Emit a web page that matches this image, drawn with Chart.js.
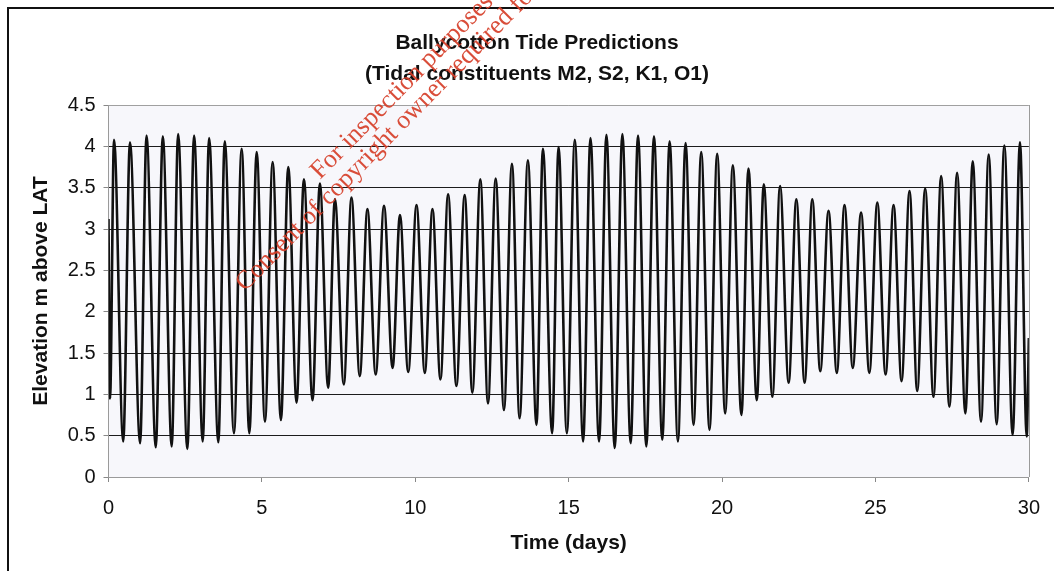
<!DOCTYPE html>
<html>
<head>
<meta charset="utf-8">
<script src="https://cdn.jsdelivr.net/npm/chart.js@4.4.0/dist/chart.umd.min.js"></script>
<style>
  html, body { margin: 0; padding: 0; background: #ffffff; }
  #wrap { width: 1054px; height: 571px; position: relative; }
</style>
</head>
<body>
<div id="wrap"><canvas id="c" width="1054" height="571"></canvas></div>
<script>
// ---- data ----
const chartTitle = ["Ballycotton Tide Predictions", "(Tidal constituents M2, S2, K1, O1)"];
const xAxisTitle = "Time (days)";
const yAxisTitle = "Elevation m above LAT";
const xTickValues = [0, 5, 10, 15, 20, 25, 30];
const yTickValues = [0, 0.5, 1, 1.5, 2, 2.5, 3, 3.5, 4, 4.5];
const watermarkLines = ["For inspection purposes only.", "Consent of copyright owner required for any other use."];

// times (days) of the successive highs / lows
const tideTimes = [0, 0.05,
  0.18, 0.48, 0.70, 1.03, 1.24, 1.54, 1.77, 2.06, 2.27, 2.57,
  2.79, 3.07, 3.28, 3.58, 3.79, 4.09, 4.34, 4.59, 4.83, 5.10,
  5.35, 5.62, 5.86, 6.13, 6.37, 6.65, 6.89, 7.16, 7.38, 7.67,
  7.92, 8.19, 8.44, 8.71, 8.98, 9.26, 9.50, 9.77, 10.04, 10.31,
  10.56, 10.82, 11.07, 11.34, 11.61, 11.86, 12.12, 12.37, 12.62, 12.89,
  13.15, 13.40, 13.67, 13.95, 14.16, 14.46, 14.67, 14.94, 15.20, 15.47,
  15.71, 15.99, 16.23, 16.50, 16.75, 17.02, 17.26, 17.53, 17.78, 18.05,
  18.29, 18.56, 18.81, 19.07, 19.32, 19.59, 19.84, 20.10, 20.35, 20.63,
  20.86, 21.13, 21.36, 21.64, 21.89, 22.17, 22.42, 22.69, 22.94, 23.20,
  23.47, 23.74, 23.99, 24.26, 24.53, 24.80, 25.06, 25.33, 25.59, 25.85,
  26.11, 26.36, 26.62, 26.89, 27.14, 27.41, 27.66, 27.93, 28.17, 28.44,
  28.69, 28.95, 29.20, 29.47, 29.71, 29.93, 30.0];

// elevations (m above LAT) at those times
const tideLevels = [3.12, 0.95,
  4.08, 0.43, 4.05, 0.41, 4.13, 0.36, 4.12, 0.37, 4.15, 0.34,
  4.13, 0.43, 4.10, 0.42, 4.06, 0.53, 3.97, 0.53, 3.93, 0.67,
  3.81, 0.69, 3.75, 0.90, 3.60, 0.93, 3.55, 1.08, 3.36, 1.12,
  3.38, 1.22, 3.24, 1.24, 3.28, 1.32, 3.17, 1.27, 3.29, 1.26,
  3.24, 1.18, 3.42, 1.10, 3.41, 1.02, 3.60, 0.89, 3.61, 0.81,
  3.79, 0.71, 3.83, 0.63, 3.97, 0.53, 3.99, 0.53, 4.08, 0.43,
  4.10, 0.43, 4.14, 0.35, 4.15, 0.41, 4.13, 0.37, 4.12, 0.45,
  4.06, 0.43, 4.04, 0.63, 3.93, 0.57, 3.91, 0.77, 3.77, 0.75,
  3.73, 0.93, 3.54, 0.97, 3.52, 1.14, 3.36, 1.14, 3.36, 1.28,
  3.22, 1.26, 3.29, 1.32, 3.20, 1.26, 3.32, 1.24, 3.29, 1.16,
  3.46, 1.04, 3.49, 0.97, 3.64, 0.85, 3.68, 0.77, 3.82, 0.67,
  3.90, 0.64, 4.01, 0.51, 4.05, 0.49, 1.68];

const points = tideTimes.map((t, i) => ({ x: t, y: tideLevels[i] }));

const FONT = "'Liberation Sans', Arial, Helvetica, sans-serif";

const decorPlugin = {
  id: 'decor',
  beforeDraw(chart) {
    const { ctx, chartArea: a } = chart;
    ctx.save();
    ctx.fillStyle = '#ffffff';
    ctx.fillRect(0, 0, chart.width, chart.height);
    ctx.fillStyle = '#f7f7fb';
    ctx.fillRect(a.left, a.top, a.right - a.left, a.bottom - a.top);
    ctx.restore();
  },
  afterDraw(chart) {
    const { ctx, chartArea: a } = chart;
    ctx.save();
    // right border of plot area
    ctx.strokeStyle = '#9a9a9a';
    ctx.lineWidth = 1;
    ctx.beginPath();
    ctx.moveTo(Math.round(a.right) + 0.5, a.top);
    ctx.lineTo(Math.round(a.right) + 0.5, a.bottom);
    ctx.stroke();
    // outer frame (top and left)
    ctx.strokeStyle = '#111';
    ctx.lineWidth = 2;
    ctx.beginPath();
    ctx.moveTo(8, chart.height);
    ctx.lineTo(8, 8);
    ctx.lineTo(chart.width, 8);
    ctx.stroke();
    // title
    ctx.fillStyle = '#111';
    ctx.font = "bold 21px " + FONT;
    ctx.textAlign = 'center';
    ctx.textBaseline = 'middle';
    ctx.fillText(chartTitle[0], 537, 43);
    ctx.fillText(chartTitle[1], 537, 74);
    // watermark
    ctx.fillStyle = 'rgba(214, 62, 40, 0.92)';
    ctx.font = "26px 'Liberation Serif', 'Times New Roman', serif";
    ctx.textAlign = 'left';
    ctx.textBaseline = 'alphabetic';
    const ang = -45.5 * Math.PI / 180;
    ctx.save();
    ctx.translate(320, 180);
    ctx.rotate(ang);
    ctx.fillText(watermarkLines[0], 0, 0);
    ctx.restore();
    ctx.save();
    ctx.translate(245, 292);
    ctx.rotate(ang);
    ctx.fillText(watermarkLines[1], 0, 0);
    ctx.restore();
    ctx.restore();
  }
};

new Chart(document.getElementById('c'), {
  type: 'scatter',
  data: {
    datasets: [{
      data: points,
      showLine: true,
      borderColor: '#111111',
      borderWidth: 2.6,
      pointRadius: 0,
      pointHoverRadius: 0,
      fill: false,
      cubicInterpolationMode: 'monotone'
    }]
  },
  options: {
    responsive: false,
    animation: false,
    devicePixelRatio: 1,
    layout: { padding: { top: 105, left: 0, right: 24.5, bottom: 0 } },
    plugins: { legend: { display: false }, tooltip: { enabled: false }, title: { display: false } },
    scales: {
      x: {
        type: 'linear',
        min: 0, max: 30,
        afterBuildTicks: (s) => { s.ticks = xTickValues.map(v => ({ value: v })); },
        afterFit: (s) => { s.height = 94; },
        ticks: {
          color: '#111', padding: 14,
          font: { family: FONT, size: 20 },
          callback: (v) => String(v),
          maxRotation: 0, autoSkip: false
        },
        grid: { drawOnChartArea: false, drawTicks: true, tickLength: 5, tickColor: '#888' },
        border: { display: true, color: '#9a9a9a', width: 1 },
        title: {
          display: true, text: xAxisTitle, color: '#111',
          font: { family: FONT, size: 21, weight: 'bold' },
          padding: { top: 0, bottom: 15 }
        }
      },
      y: {
        type: 'linear',
        min: 0, max: 4.5,
        afterBuildTicks: (s) => { s.ticks = yTickValues.map(v => ({ value: v })); },
        afterFit: (s) => { s.width = 108.5; },
        ticks: {
          color: '#111', padding: 8,
          font: { family: FONT, size: 20 },
          callback: (v) => String(v),
          autoSkip: false
        },
        grid: {
          drawTicks: true, tickLength: 5, tickColor: '#888',
          color: (c) => (c.tick && (c.tick.value === 0 || c.tick.value === 4.5)) ? '#a0a0a0' : '#1c1c1c',
          lineWidth: 1
        },
        border: { display: true, color: '#9a9a9a', width: 1 },
        title: {
          display: true, text: yAxisTitle, color: '#111',
          font: { family: FONT, size: 21, weight: 'bold' },
          padding: { top: 29, bottom: 0 }
        }
      }
    }
  },
  plugins: [decorPlugin]
});
</script>
</body>
</html>
